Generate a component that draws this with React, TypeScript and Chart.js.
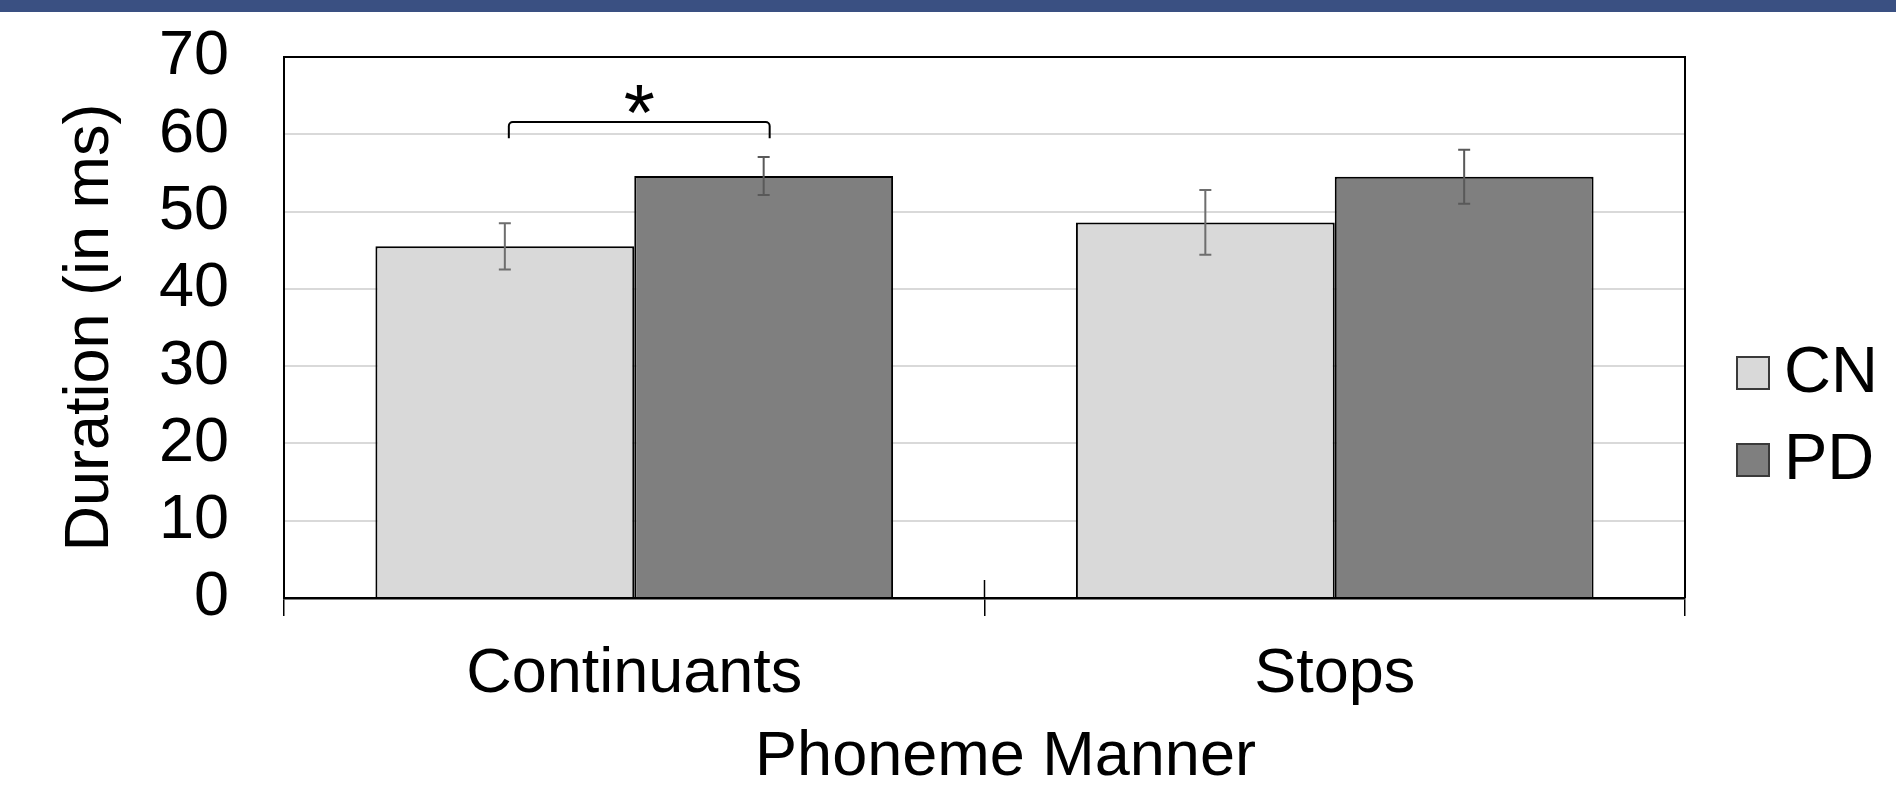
import { useEffect, useRef } from "react";
import { Chart, registerables } from "chart.js";

Chart.register(...registerables);

// ---- data ----
const categories = ["Continuants", "Stops"];
const seriesNames = ["CN", "PD"];
const cnValues = [45.5, 48.6];
const pdValues = [54.6, 54.5];
const cnErrors = [3.0, 4.2];
const pdErrors = [2.45, 3.5];
const yMin = 0;
const yMax = 70;
const yStep = 10;
const xTitle = "Phoneme Manner";
const yTitle = "Duration (in ms)";
// significance bracket over "Continuants" (CN vs PD)
const sigCategoryIndex = 0;
const sigBracketTop = 61.6;
const sigBracketEnd = 59.5;
const sigLabel = "*";
const sigLabelCenter = 64.5;

const FONT = "'Liberation Sans', Arial, Helvetica, sans-serif";
const seriesFill = ["#d9d9d9", "#7f7f7f"];
const errorColors = ["#6e6e6e", "#595959"];
const errors = [cnErrors, pdErrors];

function centeredText(ctx: any, text: string, x: number, cy: number) {
  const m = ctx.measureText(text);
  ctx.fillText(text, x, cy + (m.actualBoundingBoxAscent - m.actualBoundingBoxDescent) / 2);
}

const extrasPlugin = {
  id: "extras",
  afterDatasetsDraw(chart: any) {
    const { ctx, chartArea, scales } = chart;
    const y = scales.y;
    const x = scales.x;
    ctx.save();
    // error bars
    chart.data.datasets.forEach((ds: any, i: number) => {
      const meta = chart.getDatasetMeta(i);
      meta.data.forEach((bar: any, j: number) => {
        const v = ds.data[j];
        const e = errors[i][j];
        const yt = y.getPixelForValue(v + e);
        const yb = y.getPixelForValue(v - e);
        ctx.strokeStyle = errorColors[i];
        ctx.lineWidth = 2;
        ctx.beginPath();
        ctx.moveTo(bar.x, yt);
        ctx.lineTo(bar.x, yb);
        ctx.moveTo(bar.x - 6, yt);
        ctx.lineTo(bar.x + 6, yt);
        ctx.moveTo(bar.x - 6, yb);
        ctx.lineTo(bar.x + 6, yb);
        ctx.stroke();
      });
    });
    // frame
    ctx.strokeStyle = "#000";
    ctx.lineWidth = 2;
    ctx.beginPath();
    ctx.moveTo(chartArea.left, chartArea.bottom);
    ctx.lineTo(chartArea.left, chartArea.top);
    ctx.lineTo(chartArea.right, chartArea.top);
    ctx.lineTo(chartArea.right, chartArea.bottom);
    ctx.stroke();
    // upper part of inner category ticks
    ctx.lineWidth = 1.5;
    for (let i = 0; i < categories.length - 1; i++) {
      const bx = (x.getPixelForValue(i) + x.getPixelForValue(i + 1)) / 2;
      ctx.beginPath();
      ctx.moveTo(bx, chartArea.bottom - 18);
      ctx.lineTo(bx, chartArea.bottom);
      ctx.stroke();
    }
    // significance bracket
    const b0 = chart.getDatasetMeta(0).data[sigCategoryIndex];
    const b1 = chart.getDatasetMeta(1).data[sigCategoryIndex];
    const x1 = b0.x + 4;
    const x2 = b1.x + 6;
    const yTop = y.getPixelForValue(sigBracketTop);
    const yEnd = y.getPixelForValue(sigBracketEnd);
    ctx.lineWidth = 2;
    ctx.strokeStyle = "#000";
    ctx.beginPath();
    ctx.moveTo(x1, yEnd);
    ctx.arcTo(x1, yTop, x1 + 5, yTop, 4);
    ctx.arcTo(x2, yTop, x2, yTop + 5, 4);
    ctx.lineTo(x2, yEnd);
    ctx.stroke();
    ctx.fillStyle = "#000";
    ctx.textAlign = "center";
    ctx.textBaseline = "alphabetic";
    ctx.font = `80px ${FONT}`;
    centeredText(ctx, sigLabel, (x1 + x2) / 2, y.getPixelForValue(sigLabelCenter));
    // x axis title
    ctx.font = `63px ${FONT}`;
    centeredText(ctx, xTitle, (chartArea.left + chartArea.right) / 2 + 21, 752);
    // legend
    const legendX = 1737;
    const legendTextCenters = [369, 456];
    chart.data.datasets.forEach((ds: any, i: number) => {
      const cyT = legendTextCenters[i];
      ctx.fillStyle = ds.backgroundColor;
      ctx.fillRect(legendX, cyT - 12, 32, 32);
      ctx.strokeStyle = "#3a3a3a";
      ctx.lineWidth = 2;
      ctx.strokeRect(legendX, cyT - 12, 32, 32);
      ctx.fillStyle = "#000";
      ctx.font = `65px ${FONT}`;
      ctx.textAlign = "left";
      centeredText(ctx, ds.label, legendX + 47, cyT);
    });
    ctx.restore();
  },
};

export default function App() {
  const ref = useRef<HTMLCanvasElement | null>(null);
  useEffect(() => {
    if (!ref.current) return;
    const chart = new Chart(ref.current, {
      type: "bar",
      data: {
        labels: categories,
        datasets: [
          {
            label: seriesNames[0],
            data: cnValues,
            backgroundColor: seriesFill[0],
            borderColor: "#000",
            borderWidth: 2,
            categoryPercentage: 0.739,
            barPercentage: 1,
          },
          {
            label: seriesNames[1],
            data: pdValues,
            backgroundColor: seriesFill[1],
            borderColor: "#000",
            borderWidth: 2,
            categoryPercentage: 0.739,
            barPercentage: 1,
          },
        ],
      },
      options: {
        animation: false,
        responsive: true,
        maintainAspectRatio: false,
        layout: { padding: { top: 57, right: 211, bottom: 0, left: 0 } },
        plugins: {
          legend: { display: false },
          tooltip: { enabled: false },
        },
        scales: {
          x: {
            afterFit: (s: any) => {
              s.height = 190;
            },
            grid: {
              offset: true,
              drawOnChartArea: false,
              drawTicks: true,
              tickLength: 18,
              color: "#000",
              lineWidth: 1.5,
            },
            border: { display: true, color: "#000", width: 2.5 },
            ticks: {
              color: "#000",
              font: { family: FONT, size: 63 },
              padding: 21,
              maxRotation: 0,
              autoSkip: false,
            },
            title: { display: false, text: xTitle },
          },
          y: {
            min: yMin,
            max: yMax,
            afterFit: (s: any) => {
              s.width = 284;
            },
            grid: {
              color: "#d9d9d9",
              lineWidth: 2,
              drawTicks: true,
              tickLength: 55,
              tickColor: "rgba(0,0,0,0)",
            },
            border: { display: true, color: "#000", width: 2 },
            ticks: {
              stepSize: yStep,
              autoSkip: false,
              color: "#000",
              font: { family: FONT, size: 63 },
              padding: 0,
            },
            title: {
              display: true,
              text: yTitle,
              color: "#000",
              font: { family: FONT, size: 63 },
              padding: { top: 53, bottom: 0 },
            },
          },
        },
      },
      plugins: [extrasPlugin],
    });
    return () => chart.destroy();
  }, []);

  return (
    <div
      style={{
        position: "fixed",
        left: 0,
        top: 0,
        width: 1896,
        height: 788,
        background: "#fff",
      }}
    >
      <div
        style={{
          position: "absolute",
          left: 0,
          top: 0,
          width: 1896,
          height: 12,
          background: "#3a5082",
        }}
      />
      <canvas ref={ref} />
    </div>
  );
}
